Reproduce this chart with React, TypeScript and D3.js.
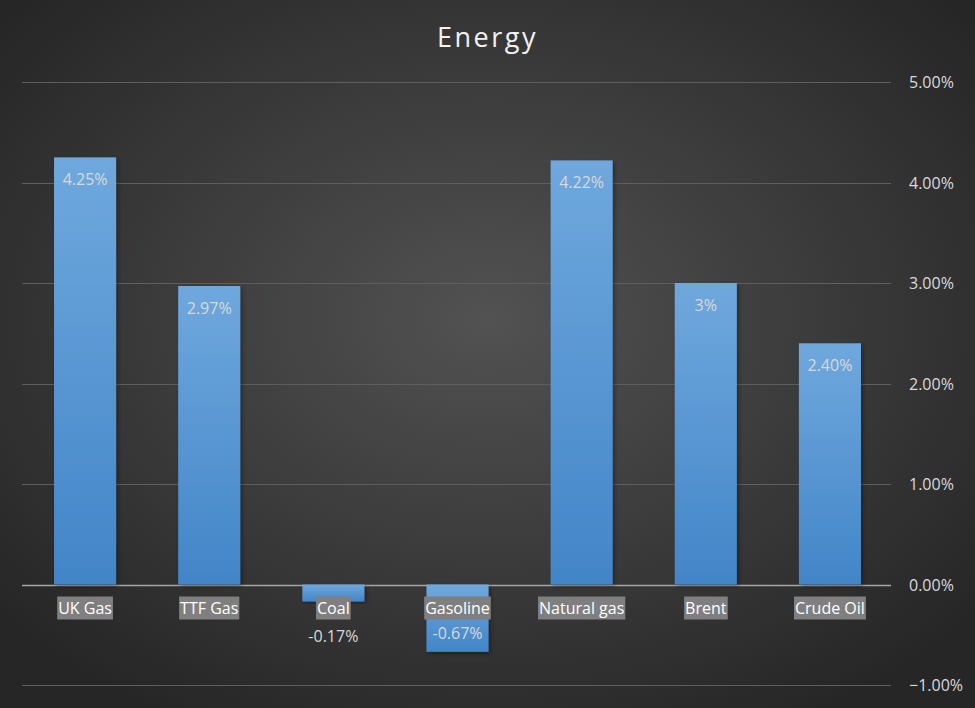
import { useEffect, useRef } from 'react';
import * as d3 from 'd3';

const categories = ['UK Gas', 'TTF Gas', 'Coal', 'Gasoline', 'Natural gas', 'Brent', 'Crude Oil'];
const values = [4.25, 2.97, -0.17, -0.67, 4.22, 3.0, 2.4];
const valueLabels = ['4.25%', '2.97%', '-0.17%', '-0.67%', '4.22%', '3%', '2.40%'];
const yTicks = [-1, 0, 1, 2, 3, 4, 5];

const W = 975;
const H = 708;
const FONT = '"Open Sans", "Noto Sans", sans-serif';

export default function App() {
  const svgRef = useRef<SVGSVGElement>(null);

  useEffect(() => {
    if (!svgRef.current) return;
    const svg = d3.select(svgRef.current);
    svg.selectAll('*').remove();

    const defs = svg.append('defs');
    const bg = defs
      .append('radialGradient')
      .attr('id', 'bg')
      .attr('cx', '50%')
      .attr('cy', '45%')
      .attr('r', '65%');
    bg.append('stop').attr('offset', '0%').attr('stop-color', '#525252');
    bg.append('stop').attr('offset', '100%').attr('stop-color', '#262626');

    const barGrad = defs
      .append('linearGradient')
      .attr('id', 'bar')
      .attr('x1', 0)
      .attr('y1', 0)
      .attr('x2', 0)
      .attr('y2', 1);
    barGrad.append('stop').attr('offset', '0%').attr('stop-color', '#6fa8dd');
    barGrad.append('stop').attr('offset', '100%').attr('stop-color', '#4285c8');

    const shadow = defs.append('filter').attr('id', 'shadow').attr('x', '-20%').attr('width', '140%');
    shadow
      .append('feDropShadow')
      .attr('dx', 2)
      .attr('dy', 2)
      .attr('stdDeviation', 2)
      .attr('flood-color', '#000')
      .attr('flood-opacity', 0.35);

    svg.append('rect').attr('width', W).attr('height', H).attr('fill', 'url(#bg)');

    const x = d3
      .scaleBand()
      .domain(categories)
      .range([23, 892])
      .paddingInner(0.5)
      .paddingOuter(0.25);
    const y = d3.scaleLinear().domain([-1, 5]).range([685, 82]);

    // gridlines
    svg
      .append('g')
      .selectAll('line')
      .data(yTicks)
      .enter()
      .append('line')
      .attr('x1', 22)
      .attr('x2', 891)
      .attr('y1', (d) => Math.round(y(d)) + 0.5)
      .attr('y2', (d) => Math.round(y(d)) + 0.5)
      .attr('stroke', (d) => (d === 0 ? '#a6a6a6' : '#5e5e5e'))
      .attr('stroke-width', (d) => (d === 0 ? 1.5 : 1));

    // right axis labels
    svg
      .append('g')
      .selectAll('text')
      .data(yTicks)
      .enter()
      .append('text')
      .attr('x', 909)
      .attr('y', (d) => y(d) + 6)
      .attr('fill', '#d9d9d9')
      .attr('font-family', FONT)
      .attr('font-size', 16)
      .text((d) => d3.format('.2f')(d) + '%');

    // bars
    svg
      .append('g')
      .selectAll('rect')
      .data(values)
      .enter()
      .append('rect')
      .attr('x', (_, i) => x(categories[i])!)
      .attr('width', x.bandwidth())
      .attr('y', (d) => y(Math.max(0, d)))
      .attr('height', (d) => Math.abs(y(d) - y(0)))
      .attr('fill', 'url(#bar)')
      .attr('filter', 'url(#shadow)');

    // category labels with grey boxes
    const cat = svg
      .append('g')
      .selectAll('g')
      .data(categories)
      .enter()
      .append('g')
      .attr('transform', (d) => `translate(${x(d)! + x.bandwidth() / 2}, ${y(0) + 29})`);
    cat
      .append('text')
      .attr('text-anchor', 'middle')
      .attr('fill', '#ffffff')
      .attr('font-family', FONT)
      .attr('font-size', 16)
      .text((d) => d)
      .each(function () {
        const bb = (this as SVGTextElement).getBBox();
        d3.select((this as SVGTextElement).parentNode as SVGGElement)
          .insert('rect', 'text')
          .attr('x', bb.x - 1)
          .attr('y', -17)
          .attr('width', bb.width + 2)
          .attr('height', 23)
          .attr('fill', '#7f7f7f');
      });

    // value labels
    svg
      .append('g')
      .selectAll('text')
      .data(values)
      .enter()
      .append('text')
      .attr('x', (_, i) => x(categories[i])! + x.bandwidth() / 2)
      .attr('y', (d) => {
        if (d >= 0) return y(d) + 28;
        const inside = y(d) - 13;
        return inside < y(0) + 45 ? y(0) + 57 : inside;
      })
      .attr('text-anchor', 'middle')
      .attr('fill', '#d9d9d9')
      .attr('font-family', FONT)
      .attr('font-size', 16)
      .text((_, i) => valueLabels[i]);

    // title
    svg
      .append('text')
      .attr('x', W / 2)
      .attr('y', 47)
      .attr('text-anchor', 'middle')
      .attr('fill', '#f2f2f2')
      .attr('font-family', FONT)
      .attr('font-size', 27)
      .attr('letter-spacing', 2.5)
      .text('Energy');
  }, []);

  return (
    <svg
      ref={svgRef}
      width={W}
      height={H}
      style={{ position: 'absolute', left: 0, top: 0, display: 'block' }}
    />
  );
}
